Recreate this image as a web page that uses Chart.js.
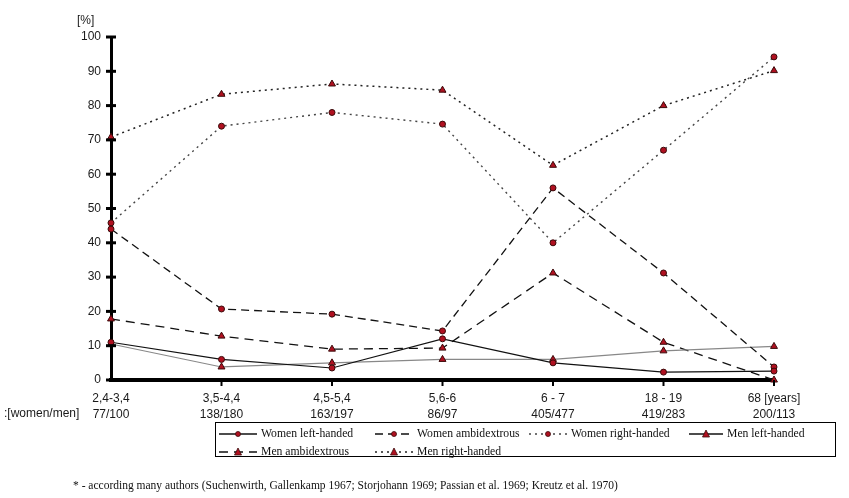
<!DOCTYPE html>
<html>
<head>
<meta charset="utf-8">
<script src="https://cdn.jsdelivr.net/npm/chart.js@4.4.1/dist/chart.umd.min.js"></script>
<style>
  body { margin: 0; background: #fff; }
  #wrap { position: relative; width: 849px; height: 498px; overflow: hidden; }
  #c { position: absolute; left: 0; top: 0; }
  .lbl { position: absolute; font-family: "Liberation Sans", Arial, sans-serif; font-size: 12px; color: #1a1a1a; white-space: nowrap; }
  #legend { position: absolute; left: 215px; top: 422px; width: 621px; height: 35px; border: 1px solid #000; box-sizing: border-box;
            font-family: "Liberation Serif", "Times New Roman", serif; font-size: 11.7px; color: #111; }
  .item { position: absolute; display: flex; align-items: center; white-space: nowrap; }
  .item svg { margin-right: 4px; }
  #note { position: absolute; left: 73px; top: 479px; font-family: "Liberation Serif", serif; font-size: 11.5px; color: #111; white-space: nowrap; }
</style>
</head>
<body>
<div id="wrap">
  <canvas id="c" width="849" height="498"></canvas>
  <div class="lbl" style="left:77px;top:13px;">[%]</div>
  <div class="lbl" style="left:4px;top:406px;">:[women/men]</div>
  <div id="legend"></div>
  <div id="note">* - according many authors (Suchenwirth, Gallenkamp 1967; Storjohann 1969; Passian et al. 1969; Kreutz et al. 1970)</div>
</div>
<script>
// --- DATOS ---
const categorias = ['2,4-3,4', '3,5-4,4', '4,5-5,4', '5,6-6', '6 - 7', '18 - 19', '68 [years]'];
const conteos = ['77/100', '138/180', '163/197', '86/97', '405/477', '419/283', '200/113'];
const yTicks = [0, 10, 20, 30, 40, 50, 60, 70, 80, 90, 100];

const womenLeft  = [11, 6, 3.5, 12, 5, 2.3, 2.6];
const womenAmbi  = [44, 20.7, 19.2, 14.3, 56, 31.2, 3.8];
const womenRight = [45.8, 74, 78, 74.6, 40, 67, 94.2];
const menLeft    = [10.5, 3.8, 5, 6, 6, 8.5, 9.8];
const menAmbi    = [17.8, 12.8, 9, 9.3, 31.2, 11, 0];
const menRight   = [70.8, 83.3, 86.3, 84.5, 62.6, 80, 90.2];

const rojo = '#b01020';
const borde = '#3a0a0a';

const series = [
  { label: 'Women left-handed',   data: womenLeft,  color: '#111', dash: [],     pt: 'circle',   w: 1.2 },
  { label: 'Women ambidextrous',  data: womenAmbi,  color: '#111', dash: [8, 5], pt: 'circle',   w: 1.3 },
  { label: 'Women right-handed',  data: womenRight, color: '#444', dash: [2, 4], pt: 'circle',   w: 1.4 },
  { label: 'Men left-handed',     data: menLeft,    color: '#888', dash: [],     pt: 'triangle', w: 1.2 },
  { label: 'Men ambidextrous',    data: menAmbi,    color: '#111', dash: [9, 6], pt: 'triangle', w: 1.3 },
  { label: 'Men right-handed',    data: menRight,   color: '#222', dash: [2, 4], pt: 'triangle', w: 1.5 }
];

// --- EJES ---
const ejesPlugin = {
  id: 'ejes',
  afterDraw(chart) {
    const ctx = chart.ctx;
    const x = chart.scales.x, y = chart.scales.y;
    const a = chart.chartArea;
    ctx.save();
    ctx.strokeStyle = '#000';
    ctx.lineWidth = 3;
    yTicks.forEach(v => {
      const py = y.getPixelForValue(v);
      ctx.beginPath(); ctx.moveTo(a.left - 5, py); ctx.lineTo(a.left + 5, py); ctx.stroke();
    });
    ctx.lineWidth = 2;
    categorias.forEach((c, i) => {
      if (i === 0) return;
      const px = x.getPixelForValue(i);
      ctx.beginPath(); ctx.moveTo(px, a.bottom); ctx.lineTo(px, a.bottom + 6); ctx.stroke();
    });
    ctx.restore();
  }
};

new Chart(document.getElementById('c'), {
  type: 'line',
  data: {
    labels: categorias.map((c, i) => [c, conteos[i]]),
    datasets: series.map(s => ({
      label: s.label,
      data: s.data,
      borderColor: s.color,
      borderWidth: s.w,
      borderDash: s.dash,
      pointStyle: s.pt,
      pointRadius: s.pt === 'triangle' ? 4 : 3,
      pointBackgroundColor: rojo,
      pointBorderColor: borde,
      pointBorderWidth: 1,
      tension: 0,
      fill: false,
      clip: false
    }))
  },
  plugins: [ejesPlugin],
  options: {
    responsive: false,
    animation: false,
    layout: { padding: { left: 0, top: 37, right: 75, bottom: 0 } },
    plugins: { legend: { display: false }, tooltip: { enabled: false } },
    scales: {
      x: {
        offset: false,
        grid: { display: false, drawTicks: false },
        border: { display: true, color: '#000', width: 4 },
        ticks: { color: '#1a1a1a', font: { family: 'Liberation Sans', size: 12, lineHeight: 1.3 }, padding: 11, maxRotation: 0, autoSkip: false },
        afterFit(s) { s.height = 118; }
      },
      y: {
        min: 0, max: 100,
        grid: { display: false, drawTicks: false },
        border: { display: true, color: '#000', width: 3 },
        ticks: { stepSize: 10, color: '#1a1a1a', font: { family: 'Liberation Sans', size: 12 }, padding: 10 },
        afterFit(s) { s.width = 111; }
      }
    }
  }
});

// --- LEYENDA ---
const posLeyenda = [[3, 4], [159, 4], [313, 4], [473, 4], [3, 22], [159, 22]];
const leg = document.getElementById('legend');
series.forEach((s, idx) => {
  const w = idx === 3 ? 34 : 38;
  const dash = s.dash.length ? `stroke-dasharray="${s.dash.join(',')}"` : '';
  const marca = s.pt === 'circle'
    ? `<circle cx="${w / 2}" cy="5" r="2.5" fill="${rojo}" stroke="${borde}" stroke-width="0.8"/>`
    : `<polygon points="${w / 2},1 ${w / 2 - 3.5},8 ${w / 2 + 3.5},8" fill="${rojo}" stroke="${borde}" stroke-width="0.8"/>`;
  const div = document.createElement('div');
  div.className = 'item';
  div.style.left = posLeyenda[idx][0] + 'px';
  div.style.top = posLeyenda[idx][1] + 'px';
  div.innerHTML = `<svg width="${w}" height="10"><line x1="0" y1="5" x2="${w}" y2="5" stroke="${idx === 3 ? '#111' : s.color}" stroke-width="1.3" ${dash}/>${marca}</svg><span>${s.label}</span>`;
  leg.appendChild(div);
});
</script>
</body>
</html>
